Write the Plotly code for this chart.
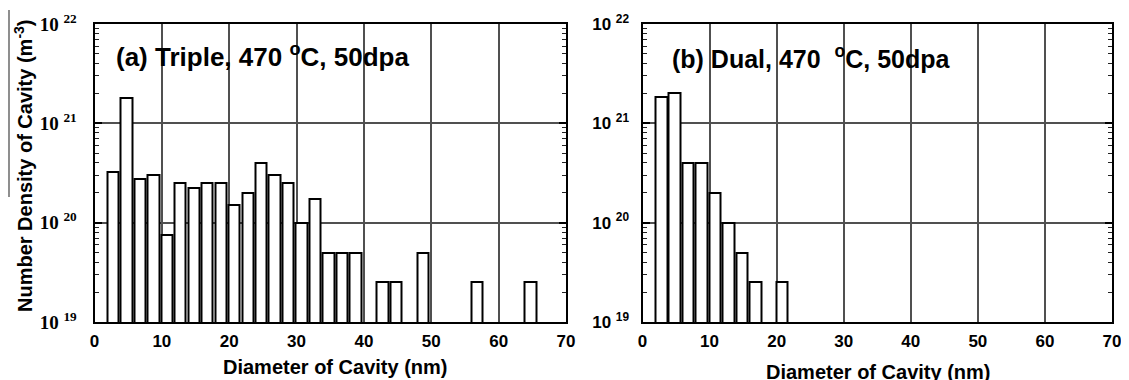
import plotly.graph_objects as go

# Panel (a): Triple, 470 C, 50 dpa  -- bin start diameters (nm) and number densities (m^-3)
diam_a = [2, 4, 6, 8, 10, 12, 14, 16, 18, 20, 22, 24, 26, 28, 30, 32, 34, 36, 38, 42, 44, 48, 56, 64]
dens_a = [3.2e20, 1.8e21, 2.75e20, 3.0e20, 7.5e19, 2.5e20, 2.25e20, 2.5e20, 2.5e20, 1.5e20,
          2.0e20, 4.0e20, 3.0e20, 2.5e20, 1.0e20, 1.75e20, 5e19, 5e19, 5e19, 2.5e19, 2.5e19,
          5e19, 2.5e19, 2.5e19]

# Panel (b): Dual, 470 C, 50 dpa
diam_b = [2, 4, 6, 8, 10, 12, 14, 16, 20]
dens_b = [1.85e21, 2.0e21, 4.0e20, 4.0e20, 2.0e20, 1.0e20, 5e19, 2.5e19, 2.5e19]

x_ticks = [0, 10, 20, 30, 40, 50, 60, 70]
y_ticks = [1e19, 1e20, 1e21, 1e22]
y_ticktext = ["10 <sup>19</sup>", "10 <sup>20</sup>", "10 <sup>21</sup>", "10 <sup>22</sup>"]
y_minor = [float(k) * 10.0 ** n for n in (19, 20, 21) for k in range(2, 10)]

W, H = 1129, 380
OFF = 8  # page body margin of the browser
def px_x(p): return (p - OFF) / W
def px_y(p): return (H - (p - OFF)) / H

fig = go.Figure()
fig.add_trace(go.Bar(x=diam_a, y=dens_a, width=1.68, offset=-0.1,
                     marker=dict(color="white", line=dict(color="black", width=2)),
                     xaxis="x", yaxis="y", showlegend=False))
fig.add_trace(go.Bar(x=diam_b, y=dens_b, width=1.72, offset=-0.05,
                     marker=dict(color="white", line=dict(color="black", width=2)),
                     xaxis="x2", yaxis="y2", showlegend=False))

sans = "Liberation Sans, Arial, sans-serif"
serif = "Liberation Serif, Times New Roman, serif"

def xaxis_cfg(dom, anchor):
    return dict(domain=dom, anchor=anchor, range=[0, 70], tickvals=x_ticks,
                showgrid=True, gridcolor="#505050", gridwidth=1.5,
                showline=True, linecolor="black", linewidth=2, mirror=True,
                ticks="", zeroline=False, automargin=False, ticklabelstandoff=3,
                tickfont=dict(family=sans, size=17, color="black", weight="bold"))

def yaxis_cfg(anchor, font, standoff):
    return dict(domain=[px_y(322), px_y(24)], anchor=anchor, type="log", range=[19, 22],
                tickvals=y_ticks, ticktext=y_ticktext,
                showgrid=True, gridcolor="#505050", gridwidth=1.5,
                showline=True, linecolor="black", linewidth=2, mirror="allticks",
                ticks="inside", ticklen=7, tickcolor="black", tickwidth=1.5,
                minor=dict(tickvals=y_minor, ticks="inside", ticklen=4, tickcolor="#222",
                           tickwidth=1, showgrid=False),
                zeroline=False, automargin=False, ticklabelstandoff=standoff,
                tickfont=font)

fig.update_layout(
    width=W, height=H, template="none",
    paper_bgcolor="white", plot_bgcolor="white",
    margin=dict(l=0, r=0, t=0, b=0),
    bargap=0,
    xaxis=xaxis_cfg([px_x(94.5), px_x(566)], "y"),
    yaxis=yaxis_cfg("x", dict(family=serif, size=19, color="black", weight="bold"), 12),
    xaxis2=xaxis_cfg([px_x(642.5), px_x(1112)], "y2"),
    yaxis2=yaxis_cfg("x2", dict(family=sans, size=17, color="black", weight="bold"), 8),
)

axis_font = dict(family=sans, size=20, color="black", weight="bold")

fig.add_annotation(text="(a) Triple, 470 <sup>o</sup>C, 50dpa", xref="paper", yref="paper",
                   x=px_x(114), y=px_y(56), xanchor="left", yanchor="middle",
                   showarrow=False, font=dict(family=sans, size=26, color="black", weight="bold"))
fig.add_annotation(text="(b) Dual, 470  <sup>o</sup>C, 50dpa", xref="paper", yref="paper",
                   x=px_x(670), y=px_y(57), xanchor="left", yanchor="middle",
                   showarrow=False, font=dict(family=sans, size=25, color="black", weight="bold"))
fig.add_annotation(text="Diameter of Cavity (nm)", xref="paper", yref="paper",
                   x=px_x(335), y=px_y(367), xanchor="center", yanchor="middle",
                   showarrow=False, font=axis_font)
fig.add_annotation(text="Diameter of Cavity (nm)", xref="paper", yref="paper",
                   x=px_x(878), y=px_y(372), xanchor="center", yanchor="middle",
                   showarrow=False, font=axis_font)
fig.add_annotation(text="Number Density of Cavity (m<sup>-3</sup>)", xref="paper", yref="paper",
                   x=px_x(24), y=px_y(166), xanchor="center", yanchor="middle",
                   textangle=-90, showarrow=False, font=axis_font)
fig.add_shape(type="line", xref="paper", yref="paper",
              x0=px_x(9), x1=px_x(9), y0=px_y(10), y1=px_y(197),
              line=dict(color="#444", width=1.2))

fig.write_html("out.html")
